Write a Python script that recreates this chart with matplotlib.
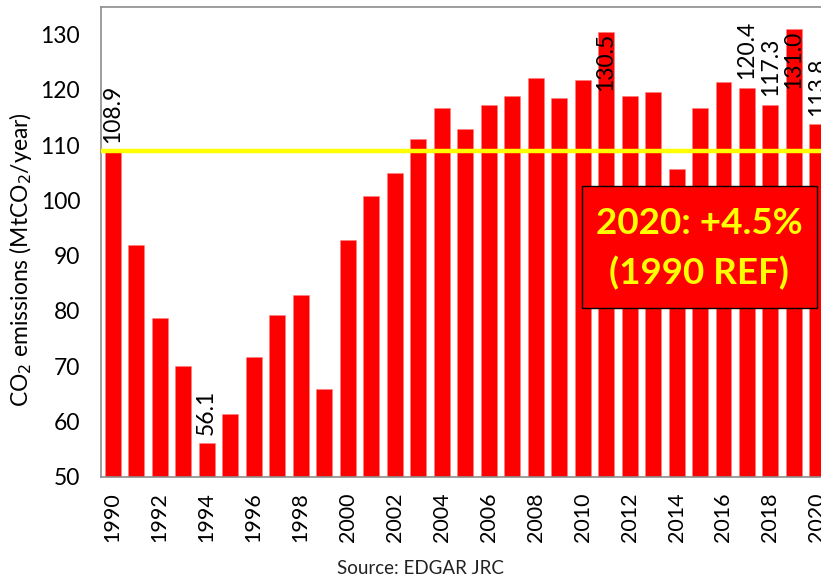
import matplotlib
matplotlib.use("Agg")
import matplotlib.pyplot as plt
from matplotlib.patches import Rectangle

# CO2 emissions per year (MtCO2/year)
years = list(range(1990, 2021))
emissions = [
    108.9, 91.9, 78.8, 70.0, 56.1, 61.3, 71.7, 79.3, 82.8, 65.8,
    92.8, 100.8, 105.0, 111.1, 116.7, 112.9, 117.3, 118.9, 122.1, 118.5,
    121.7, 130.5, 118.9, 119.7, 105.7, 116.7, 121.5, 120.4, 117.3, 131.0,
    113.8,
]
labelled_years = [1990, 1994, 2011, 2017, 2018, 2019, 2020]
inside_label_years = [2011, 2019]  # labels pushed inside the bar near the top
ref_value = 108.9
tick_years = list(range(1990, 2021, 2))
yticks = list(range(50, 131, 10))

plt.rcParams["font.family"] = ["Lato", "DejaVu Sans"]

fig = plt.figure(figsize=(8.21, 5.80), dpi=100)
ax = fig.add_axes([0.123, 0.178, 0.887, 0.81])

ax.bar(years, emissions, width=0.68, color="#ff0000", edgecolor="#ff8080",
       linewidth=0.4, zorder=2)
ax.axhline(ref_value, color="#ffff00", linewidth=3.2, zorder=3)

for yr, val in zip(years, emissions):
    if yr not in labelled_years:
        continue
    if yr in inside_label_years:
        ax.annotate(f"{val:.1f}", (yr, val), xytext=(0, -1), textcoords="offset points",
                    rotation=90, ha="center", va="top", fontsize=16.5, zorder=4)
    else:
        ax.annotate(f"{val:.1f}", (yr, val), xytext=(0, 6), textcoords="offset points",
                    rotation=90, ha="center", va="bottom", fontsize=16.5, zorder=4,
                    annotation_clip=False)

ax.set_xlim(1989.5, 2020.5)
ax.set_ylim(50, 135)
ax.set_yticks(yticks)
ax.set_xticks(tick_years)
ax.set_xticklabels([str(t) for t in tick_years], rotation=90, fontsize=15.5)
ax.tick_params(axis="y", labelsize=16.5, length=0, pad=15)
ax.tick_params(axis="x", length=0, pad=11)

for side in ["top", "left", "bottom", "right"]:
    ax.spines[side].set_color("#8c8c8c")
    ax.spines[side].set_linewidth(1.2)

ax.set_ylabel("CO$_2$ emissions (MtCO$_2$/year)", fontsize=16.5)
ax.yaxis.set_label_coords(-0.092, 0.462)

# highlighted annotation box
box = Rectangle((582 / 821, 1 - 308 / 580), (817 - 582) / 821, (308 - 186) / 580,
                transform=fig.transFigure, facecolor="#ff0000", edgecolor="black",
                linewidth=1.0, zorder=5)
fig.patches.append(box)
fig.text(699 / 821, 1 - 224 / 580, "2020: +4.5%", color="#ffff00", fontsize=26.5,
         fontweight="bold", ha="center", va="center", zorder=6)
fig.text(699 / 821, 1 - 273 / 580, "(1990 REF)", color="#ffff00", fontsize=26.5,
         fontweight="bold", ha="center", va="center", zorder=6)

fig.text(420 / 821, 1 - 568 / 580, "Source: EDGAR JRC", fontsize=13.5,
         ha="center", va="center", color="#222222")

fig.savefig("out.png", dpi=100)
